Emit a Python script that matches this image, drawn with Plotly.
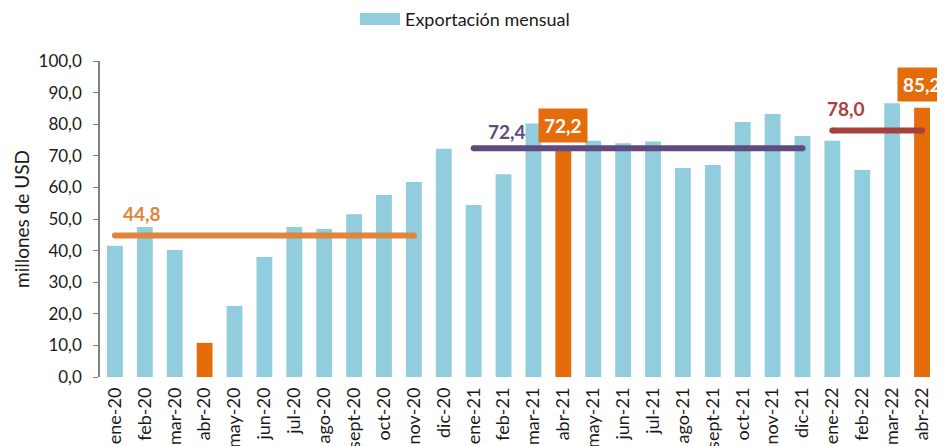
import plotly.graph_objects as go

meses = ["ene-20","feb-20","mar-20","abr-20","may-20","jun-20","jul-20","ago-20","sept-20","oct-20","nov-20","dic-20",
         "ene-21","feb-21","mar-21","abr-21","may-21","jun-21","jul-21","ago-21","sept-21","oct-21","nov-21","dic-21",
         "ene-22","feb-22","mar-22","abr-22"]
exportacion = [41.5,47.5,40.2,10.8,22.5,38.0,47.5,46.8,51.5,57.6,61.7,72.2,
               54.4,64.2,80.2,72.2,74.8,74.0,74.5,66.1,67.1,80.7,83.2,76.3,
               74.8,65.5,86.6,85.2]
destacados = ["abr-20","abr-21","abr-22"]

prom_desde = ["ene-20", "ene-21", "ene-22"]
prom_hasta = ["nov-20", "dic-21", "abr-22"]
prom_valor = [44.8, 72.4, 78.0]
prom_color = ["#E0853D", "#5F4B80", "#A8403E"]
# label offsets (style): (category offset, value offset)
prom_label_off = [(0.9, 7.1), (1.1, 5.4), (0.45, 7.1)]
etiquetas_caja = ["abr-21", "abr-22"]

AZUL = "#92CDDD"
NARANJA = "#E46C0A"
FONT = "Lato"
TXT = "#1a1a1a"

def fmt(v):
    return f"{v:.1f}".replace(".", ",")

colores = [NARANJA if m in destacados else AZUL for m in meses]

fig = go.Figure()
fig.add_trace(go.Bar(x=meses, y=exportacion, marker=dict(color=colores, line=dict(width=0)),
                     name="Exportación mensual", showlegend=False))

for d, h, v, c, off in zip(prom_desde, prom_hasta, prom_valor, prom_color, prom_label_off):
    i0, i1 = meses.index(d), meses.index(h)
    fig.add_trace(go.Scatter(x=[meses[i0], meses[i1]], y=[v, v], mode="lines+markers",
                             line=dict(color=c, width=6),
                             marker=dict(color=c, size=6, symbol="circle"),
                             showlegend=False, hoverinfo="skip"))
    fig.add_annotation(x=i0 + off[0], y=v + off[1], xref="x", yref="y", text=f"<b>{fmt(v)}</b>",
                       showarrow=False, yanchor="middle", xanchor="center",
                       font=dict(family=FONT, size=19, color=c))

for m in etiquetas_caja:
    i = meses.index(m)
    v = exportacion[i]
    fig.add_annotation(x=i, y=v + 1.8, xref="x", yref="y", text=f"<b>{fmt(v)}</b>",
                       showarrow=False, yanchor="bottom", xanchor="center",
                       bgcolor=NARANJA, borderpad=5,
                       font=dict(family=FONT, size=19, color="white"))

# manual legend (wide swatch)
fig.add_shape(type="rect", xref="paper", yref="paper",
              x0=(360 - 100) / 837, x1=(400 - 100) / 837,
              y0=1 + (61 - 25) / 316, y1=1 + (61 - 13) / 316,
              fillcolor=AZUL, line=dict(width=0))
fig.add_annotation(xref="paper", yref="paper", x=(403 - 100) / 837, y=1 + (61 - 19) / 316,
                   text="Exportación mensual", showarrow=False, xanchor="left", yanchor="middle",
                   font=dict(family=FONT, size=18, color=TXT))

fig.update_layout(
    width=945, height=446,
    margin=dict(l=92, r=16, t=53, b=77, autoexpand=False),
    paper_bgcolor="white", plot_bgcolor="white",
    bargap=0.47,
    separators=",.",
    font=dict(family=FONT, size=15, color=TXT),
    showlegend=False,
)
fig.update_xaxes(type="category", tickangle=-90, showline=False, ticks="", automargin=False,
                 range=[-0.5, len(meses) - 0.5], ticklabelstandoff=6,
                 tickfont=dict(family=FONT, size=18, color=TXT))
fig.update_yaxes(range=[0, 100], dtick=10, tickformat=".1f", showgrid=False, zeroline=False,
                 showline=True, linecolor="#7f7f7f", linewidth=1.5, ticks="outside", ticklen=5,
                 tickcolor="#7f7f7f", automargin=False, ticklabelstandoff=8,
                 title=dict(text="millones de USD", font=dict(family=FONT, size=19, color=TXT), standoff=4),
                 tickfont=dict(family=FONT, size=17, color=TXT))

fig.write_html("out.html")
